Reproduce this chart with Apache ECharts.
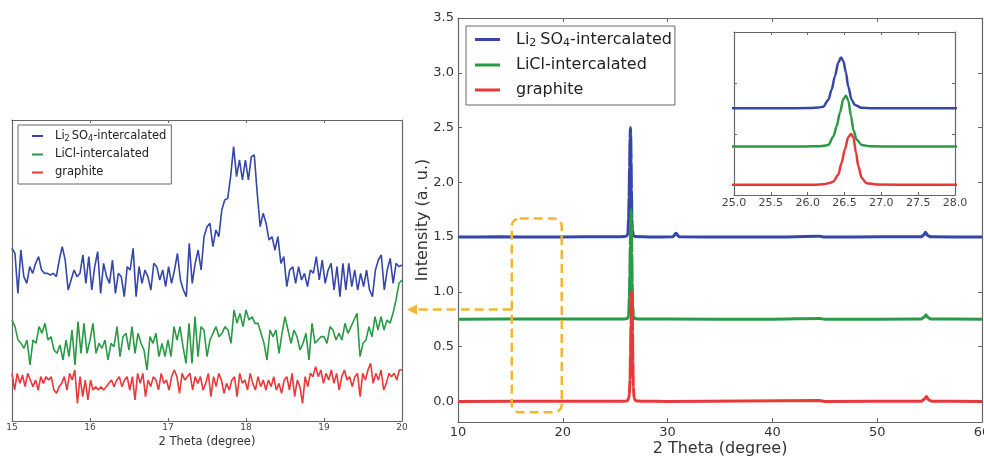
<!DOCTYPE html>
<html><head><meta charset="utf-8">
<script src="https://cdn.jsdelivr.net/npm/echarts@6/dist/echarts.min.js"></script>
<style>html,body{margin:0;padding:0;background:#fff}#c{width:984px;height:459px}</style>
</head><body><div id="c"></div>
<script>
// ---------- data ----------
const seriesNames = ['Li2SO4-intercalated', 'LiCl-intercalated', 'graphite'];
const seriesColors = ['#3447a8', '#2a9a45', '#e8383a'];

// zoomed scan 15-20 degree (uniform scan grid), intensity in counts (a.u.)
const zoomRange = [15, 20];
const zoomLi2SO4 = [585,570,450,580,500,480,530,510,540,560,
520,510,510,505,510,500,550,590,550,460,
490,520,500,510,565,480,560,460,530,575,
450,540,500,480,550,450,510,500,440,530,520,
585,440,530,480,520,500,460,540,530,490,
520,470,530,480,520,570,490,460,440,600,
480,540,580,520,620,650,660,590,640,620,
700,730,735,800,890,800,850,790,850,790,
860,865,750,650,690,660,610,620,580,620,
540,560,470,520,530,480,530,490,510,470,
520,510,560,490,550,480,520,540,460,530,
440,540,460,540,470,520,460,510,470,520,
460,440,520,550,565,460,520,555,480,540,
530,535];
const zoomLiCl = [370,350,310,300,285,310,235,310,300,350,
330,360,310,320,280,270,295,250,310,260,
340,235,365,270,360,270,310,360,270,300,
285,310,250,300,290,350,260,320,330,280,
350,270,330,300,280,220,320,300,330,260,
300,260,310,260,350,310,350,290,240,360,
240,380,260,350,340,260,310,330,350,320,
330,350,340,300,400,360,390,350,400,370,
380,360,360,330,300,250,340,320,340,270,
330,380,340,300,340,320,280,300,330,250,
360,300,310,320,320,300,350,340,310,330,
310,360,330,350,370,390,260,300,310,350,
320,380,340,380,340,370,360,390,430,480,
490];
const zoomGraphite = [210,160,210,180,205,170,210,190,170,190,
160,200,180,200,190,200,160,150,170,180,
200,160,210,190,220,120,200,140,190,130,
190,160,170,160,170,160,170,180,190,170,
190,200,170,190,200,160,200,130,210,180,
210,140,190,170,200,190,160,210,180,190,
160,200,220,200,150,210,190,200,210,160,
200,180,200,160,180,210,140,200,170,210,
190,150,180,160,190,200,140,210,180,190,
160,210,180,160,200,170,190,160,190,170,
200,160,180,150,190,200,160,210,140,190,
170,120,200,170,210,200,230,200,220,180,
210,190,220,180,210,160,200,220,190,200,
170,200,210,140,210,190,220,240,180,210,
190,220,160,180,210,200,210,190,220,220];

// full scan 10-60 degree, [2theta, normalized intensity + offset]
const mainLi2SO4 = [[10,1.5],[14,1.502],[18,1.5],[22,1.502],[25,1.503],[25.6,1.504],[26.03,1.507],[26.15,1.517],[26.21,1.533],[26.28,1.667],[26.325,1.867],[26.37,2.133],[26.416,2.4],[26.452,2.5],[26.484,2.433],[26.52,2.2],[26.55,1.933],[26.597,1.667],[26.642,1.567],[26.73,1.513],[26.89,1.505],[28.5,1.5],[30.5,1.502],[30.8,1.535],[31.1,1.502],[36,1.5],[40,1.5],[44.5,1.507],[45,1.5],[50.5,1.503],[54.2,1.502],[54.45,1.52],[54.6,1.545],[54.8,1.515],[55.1,1.502],[60,1.5]];
const mainLiCl = [[10,0.75],[18,0.752],[22,0.752],[25,0.752],[25.8,0.752],[26.1,0.755],[26.2,0.762],[26.28,0.783],[26.35,0.95],[26.393,1.15],[26.438,1.417],[26.484,1.683],[26.52,1.75],[26.552,1.65],[26.588,1.35],[26.62,1.083],[26.665,0.883],[26.733,0.783],[26.85,0.755],[27.2,0.752],[30,0.752],[40,0.75],[44.5,0.757],[45,0.75],[54.2,0.752],[54.5,0.77],[54.65,0.79],[54.85,0.765],[55.1,0.752],[60,0.75]];
const mainGraphite = [[10,0.0],[20,0.002],[25,0.002],[26.1,0.003],[26.21,0.01],[26.3,0.035],[26.35,0.067],[26.416,0.2],[26.46,0.433],[26.506,0.7],[26.55,0.933],[26.588,1.0],[26.62,0.933],[26.656,0.633],[26.687,0.367],[26.733,0.133],[26.8,0.033],[26.94,0.005],[27.5,0.002],[30,0.0],[44.5,0.008],[45,0.0],[54.2,0.002],[54.5,0.02],[54.7,0.045],[54.9,0.015],[55.2,0.002],[60,0.0]];

// axes ranges
const zoomYRange = [67, 970];
const mainXRange = [10, 60];
const mainYRange = [-0.188, 3.5];
const insetXRange = [25, 28];
const insetYRange = [-0.2, 3.0];

// annotation (main-plot coordinates)
const highlightBoxX = [15.13, 19.9];
const highlightBoxY = [-0.1, 1.67];
const arrowLevel = 0.84;

// ---------- chart ----------
const FONT = 'DejaVu Sans';
const AX = '#666';
const ORANGE = '#f5b52e';
const chart = echarts.init(document.getElementById('c'), null, {renderer: 'canvas'});

function zoomPairs(vals) {
  return vals.map((v, i) => [zoomRange[0] + (zoomRange[1] - zoomRange[0]) * i / (vals.length - 1), v]);
}
const zoomData = [zoomLi2SO4, zoomLiCl, zoomGraphite].map(zoomPairs);
const mainData = [mainLi2SO4, mainLiCl, mainGraphite];

function ax(grid, pos, range, extra) {
  return Object.assign({
    type: 'value', gridIndex: grid, position: pos, min: range[0], max: range[1],
    axisLine: {show: true, onZero: false, lineStyle: {color: AX, width: 1.2}},
    axisTick: {show: true, inside: true, length: 4, lineStyle: {color: AX}},
    axisLabel: {show: false},
    splitLine: {show: false},
    nameMoveOverlap: false
  }, extra || {});
}
const smallTick = {show: true, inside: true, length: 3, lineStyle: {color: AX}};

const subFormatter = n => n === seriesNames[0] ? 'Li{a|2}SO{b|4}-intercalated' : n;

const series = [];
seriesNames.forEach((name, k) => {
  series.push({name, type: 'line', xAxisIndex: 0, yAxisIndex: 0, data: zoomData[k], showSymbol: false, symbol: 'none',
    lineStyle: {color: seriesColors[k], width: 1.6}, itemStyle: {color: seriesColors[k]}, silent: true});
});
seriesNames.forEach((name, k) => {
  series.push({name, type: 'line', xAxisIndex: 2, yAxisIndex: 2, data: mainData[k], showSymbol: false, symbol: 'none',
    smooth: 0.2, smoothMonotone: 'x',
    lineStyle: {color: seriesColors[k], width: 3}, itemStyle: {color: seriesColors[k]}, silent: true});
});
seriesNames.forEach((name, k) => {
  series.push({name, type: 'line', xAxisIndex: 4, yAxisIndex: 4, data: mainData[k], showSymbol: false, symbol: 'none',
    smooth: 0.3, smoothMonotone: 'x',
    lineStyle: {color: seriesColors[k], width: 2.5}, itemStyle: {color: seriesColors[k]}, silent: true});
});

const option = {
  animation: false,
  backgroundColor: '#fff',
  textStyle: {fontFamily: FONT},
  grid: [
    {left: 12, top: 120, width: 390, height: 301, outerBoundsMode: 'none', containLabel: false},
    {left: 458, top: 18, width: 524, height: 404, outerBoundsMode: 'none', containLabel: false},
    {left: 734, top: 32, width: 221, height: 163, outerBoundsMode: 'none', containLabel: false}
  ],
  xAxis: [
    ax(0, 'bottom', zoomRange, {interval: 1, axisTick: smallTick,
      axisLabel: {show: true, fontSize: 9, color: '#444', margin: 2, fontFamily: FONT},
      name: '2 Theta (degree)', nameLocation: 'middle', nameGap: 15,
      nameTextStyle: {fontSize: 11.5, color: '#333', fontFamily: FONT}}),
    ax(0, 'top', zoomRange, {interval: 1, axisTick: smallTick}),
    ax(1, 'bottom', mainXRange, {interval: 10,
      axisLabel: {show: true, fontSize: 13, color: '#333', margin: 4, fontFamily: FONT},
      name: '2 Theta (degree)', nameLocation: 'middle', nameGap: 19,
      nameTextStyle: {fontSize: 16, color: '#333', fontFamily: FONT}}),
    ax(1, 'top', mainXRange, {interval: 10}),
    ax(2, 'bottom', insetXRange, {interval: 0.5, axisTick: smallTick,
      axisLabel: {show: true, fontSize: 11, color: '#444', margin: 3, fontFamily: FONT, formatter: v => v.toFixed(1)}}),
    ax(2, 'top', insetXRange, {interval: 0.5, axisTick: smallTick})
  ],
  yAxis: [
    ax(0, 'left', zoomYRange, {axisTick: {show: false}}),
    ax(0, 'right', zoomYRange, {axisTick: {show: false}}),
    ax(1, 'left', mainYRange, {splitNumber: 7,
      axisLabel: {show: true, showMinLabel: false, fontSize: 13, color: '#333', margin: 4, fontFamily: FONT,
        formatter: v => v < -0.01 ? '' : v.toFixed(1)},
      name: 'Intensity (a. u.)', nameLocation: 'middle', nameGap: 27,
      nameTextStyle: {fontSize: 16, color: '#333', fontFamily: FONT}}),
    ax(1, 'right', mainYRange, {splitNumber: 7}),
    ax(2, 'left', insetYRange, {splitNumber: 3, axisTick: smallTick}),
    ax(2, 'right', insetYRange, {splitNumber: 3, axisTick: smallTick})
  ],
  legend: [
    {left: 18, top: 125, orient: 'vertical', data: seriesNames, icon: 'rect', itemWidth: 11, itemHeight: 2, itemGap: 5,
      padding: [4, 5, 5, 14], borderColor: '#666', borderWidth: 1, backgroundColor: '#fff', selectedMode: false,
      formatter: subFormatter,
      textStyle: {fontSize: 11.5, lineHeight: 13, fontFamily: FONT, color: '#222', padding: [0, 0, 0, 7],
        rich: {a: {fontSize: 8, lineHeight: 8, padding: [6, 2, 0, 0], fontFamily: FONT, color: '#222'},
               b: {fontSize: 8, lineHeight: 8, padding: [6, 0, 0, 0], fontFamily: FONT, color: '#222'}}}},
    {left: 466, top: 26, orient: 'vertical', data: seriesNames, icon: 'rect', itemWidth: 25, itemHeight: 3, itemGap: 7,
      padding: [4, 3, 6, 9], borderColor: '#666', borderWidth: 1, backgroundColor: '#fff', selectedMode: false,
      formatter: subFormatter,
      textStyle: {fontSize: 16, lineHeight: 18, fontFamily: FONT, color: '#222', padding: [0, 0, 0, 11],
        rich: {a: {fontSize: 11, lineHeight: 11, padding: [8, 4, 0, 0], fontFamily: FONT, color: '#222'},
               b: {fontSize: 11, lineHeight: 11, padding: [8, 0, 0, 0], fontFamily: FONT, color: '#222'}}}}
  ],
  series
};
chart.setOption(option);

// orange highlight box and arrow, placed through the axes
const finder = {xAxisIndex: 2, yAxisIndex: 2};
const pA = chart.convertToPixel(finder, [highlightBoxX[0], highlightBoxY[1]]);
const pB = chart.convertToPixel(finder, [highlightBoxX[1], highlightBoxY[0]]);
const ay = chart.convertToPixel(finder, [highlightBoxX[0], arrowLevel])[1];
const tipX = chart.convertToPixel({xAxisIndex: 0, yAxisIndex: 0}, [zoomRange[1], zoomYRange[0]])[0] + 5;
chart.setOption({
  graphic: [
    {type: 'rect', z: 100, silent: true,
      shape: {x: pA[0], y: pA[1], width: pB[0] - pA[0], height: pB[1] - pA[1], r: 8},
      style: {fill: 'none', stroke: ORANGE, lineWidth: 2.5, lineDash: [9, 5]}},
    {type: 'line', z: 100, silent: true,
      shape: {x1: pA[0], y1: ay, x2: tipX + 8, y2: ay},
      style: {stroke: ORANGE, lineWidth: 2.5, lineDash: [9, 5]}},
    {type: 'polygon', z: 100, silent: true,
      shape: {points: [[tipX, ay], [tipX + 10, ay - 5], [tipX + 10, ay + 5]]},
      style: {fill: ORANGE}}
  ]
});
</script>
</body></html>
